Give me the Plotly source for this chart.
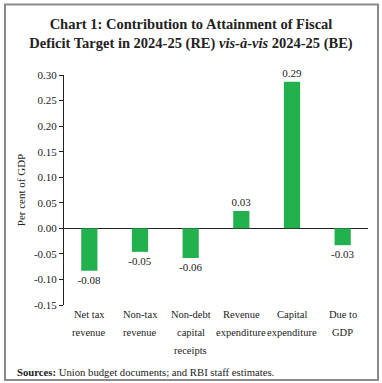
import plotly.graph_objects as go

categories = ["Net tax revenue", "Non-tax revenue", "Non-debt capital receipts",
              "Revenue expenditure", "Capital expenditure", "Due to GDP"]
label_lines = [["Net tax", "revenue"], ["Non-tax", "revenue"], ["Non-debt", "capital", "receipts"],
               ["Revenue", "expenditure"], ["Capital", "expenditure"], ["Due to", "GDP"]]
values = [-0.083, -0.046, -0.058, 0.034, 0.287, -0.033]
y_ticks = [0.30, 0.25, 0.20, 0.15, 0.10, 0.05, 0.00, -0.05, -0.10, -0.15]

W, H = 382, 383
ML, MR, MT, MB = 64, 14, 75, 78
FONT = "Liberation Serif"
GREEN = "#22b14c"
pw, ph = W - ML - MR, H - MT - MB

fig = go.Figure()
fig.add_trace(go.Bar(
    x=categories, y=values, width=0.32,
    marker=dict(color=GREEN, line=dict(width=0)),
    text=[f"{v:.2f}" for v in values], textposition="outside", constraintext="none",
    textfont=dict(family=FONT, size=11, color="#222"),
    cliponaxis=False, hoverinfo="skip",
))

annotations = []
for cat, lines in zip(categories, label_lines):
    for i, ln in enumerate(lines):
        annotations.append(dict(
            x=cat, xref="x", y=0, yref="paper", yanchor="top", xanchor="center",
            yshift=-2 - 18 * i, text=ln, showarrow=False,
            font=dict(family=FONT, size=10.5, color="#222"),
        ))
annotations.append(dict(
    x=(15 - ML) / pw, y=(H - MB - 372) / ph, xref="paper", yref="paper",
    text="<b>Sources:</b> Union budget documents; and RBI staff estimates.",
    showarrow=False, font=dict(family=FONT, size=10.7, color="#222"), xanchor="left", yanchor="middle",
))

fig.update_layout(
    width=W, height=H,
    margin=dict(l=ML, r=MR, t=MT, b=MB, pad=0, autoexpand=False),
    paper_bgcolor="white", plot_bgcolor="white",
    showlegend=False,
    title=dict(
        text="<b>Chart 1: Contribution to Attainment of Fiscal<br>Deficit Target in 2024-25 (RE) <i>vis-à-vis</i> 2024-25 (BE)</b>",
        x=191 / W, xanchor="center", xref="container", y=1 - 29 / H, yanchor="middle", yref="container",
        font=dict(family=FONT, size=14.5, color="#222"),
    ),
    xaxis=dict(showticklabels=False, showline=False, showgrid=False, zeroline=False, ticks="",
               range=[-0.5, 5.5]),
    yaxis=dict(range=[-0.15, 0.30], tickvals=y_ticks, ticktext=[f"{t:.2f}" for t in y_ticks],
               showline=True, linecolor="#222", linewidth=1, ticks="outside", ticklen=4,
               tickcolor="#222", showgrid=False, zeroline=True, zerolinecolor="#222", zerolinewidth=1,
               tickfont=dict(family=FONT, size=11, color="#222"),
               title=dict(text="Per cent of GDP", font=dict(family=FONT, size=11, color="#222"), standoff=6)),
    annotations=annotations,
    shapes=[dict(type="rect", xref="paper", yref="paper",
                 x0=(5 - ML) / pw, x1=(378 - ML) / pw,
                 y0=(H - MB - 380) / ph, y1=(H - MB - 4.5) / ph,
                 line=dict(color="#8a8a8a", width=2), fillcolor="rgba(0,0,0,0)", layer="above")],
)

fig.write_html("out.html", config={"displayModeBar": False},
               post_script="document.body.style.margin='0';document.body.style.overflow='hidden';")
